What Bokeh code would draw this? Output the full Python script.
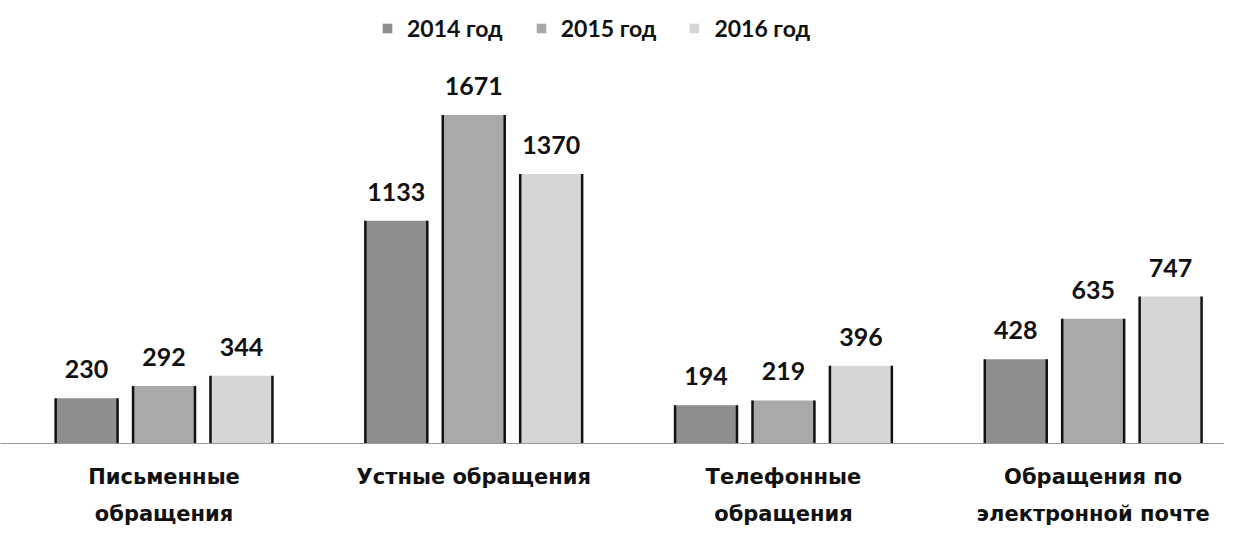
import numpy as np
from bokeh.plotting import figure
from bokeh.models import ColumnDataSource, Range1d, FixedTicker, Legend, LegendItem
from bokeh.core.properties import value
from bokeh.embed import file_html
from bokeh.resources import INLINE

categories = ["Письменные\nобращения", "Устные обращения", "Телефонные\nобращения", "Обращения по\nэлектронной почте"]
years = ["2014 год", "2015 год", "2016 год"]
v2014 = [230, 1133, 194, 428]
v2015 = [292, 1671, 219, 635]
v2016 = [344, 1370, 396, 747]
series = [v2014, v2015, v2016]
colors = ["#8e8e8e", "#a9a9a9", "#d6d6d6"]
offsets = [-0.25, 0.0, 0.25]
bar_w = 0.2

FONT = "Lato"
CAT_FONT = "DejaVu Sans"

p = figure(frame_width=1224, frame_height=443, output_backend="svg", toolbar_location=None,
           x_range=Range1d(-0.528, 3.424), y_range=Range1d(0, 2253),
           min_border=0, min_border_left=0, min_border_right=0, min_border_top=0)
p.outline_line_color = None
p.background_fill_color = "white"
p.border_fill_color = "white"
p.xgrid.visible = False
p.ygrid.visible = False
p.yaxis.visible = False

idx = np.arange(len(categories))
items = []
for k, (vals, col, off, yr) in enumerate(zip(series, colors, offsets, years)):
    xs = idx + off
    src = ColumnDataSource(dict(x=xs, top=vals, lab=[str(v) for v in vals],
                                xl=xs - bar_w / 2, xr=xs + bar_w / 2, y0=[0] * len(vals)))
    r = p.vbar(x="x", top="top", width=bar_w, source=src, fill_color=col, line_color=None)
    p.segment(x0="xl", y0="y0", x1="xl", y1="top", source=src, line_color="#111111", line_width=2.5)
    p.segment(x0="xr", y0="y0", x1="xr", y1="top", source=src, line_color="#111111", line_width=2.5)
    p.text(x="x", y="top", text="lab", source=src, text_align="center", text_baseline="bottom",
           y_offset=-20, text_font=value(FONT), text_font_style="bold", text_font_size="25px",
           text_color="#111111")
    items.append(LegendItem(label=yr, renderers=[r]))

legend = Legend(items=items, orientation="horizontal", location=(381, 401),
                label_text_font=FONT, label_text_font_style="bold", label_text_font_size="23px",
                label_text_color="#111111", glyph_width=12, glyph_height=12, spacing=32,
                border_line_color=None, background_fill_alpha=0, margin=0, padding=4,
                label_standoff=14)
p.add_layout(legend, "center")

p.xaxis.ticker = FixedTicker(ticks=list(idx))
p.xaxis.major_label_overrides = {int(i): c for i, c in zip(idx, categories)}
p.xaxis.major_tick_line_color = None
p.xaxis.minor_tick_line_color = None
p.xaxis.axis_line_color = "#999999"
p.xaxis.axis_line_width = 1
p.xaxis.major_label_standoff = 15
p.xaxis.major_label_text_font = CAT_FONT
p.xaxis.major_label_text_font_style = "bold"
p.xaxis.major_label_text_font_size = "21px"
p.xaxis.major_label_text_line_height = 1.55
p.xaxis.major_label_text_color = "#111111"

open("out.html", "w").write(file_html(p, INLINE))
